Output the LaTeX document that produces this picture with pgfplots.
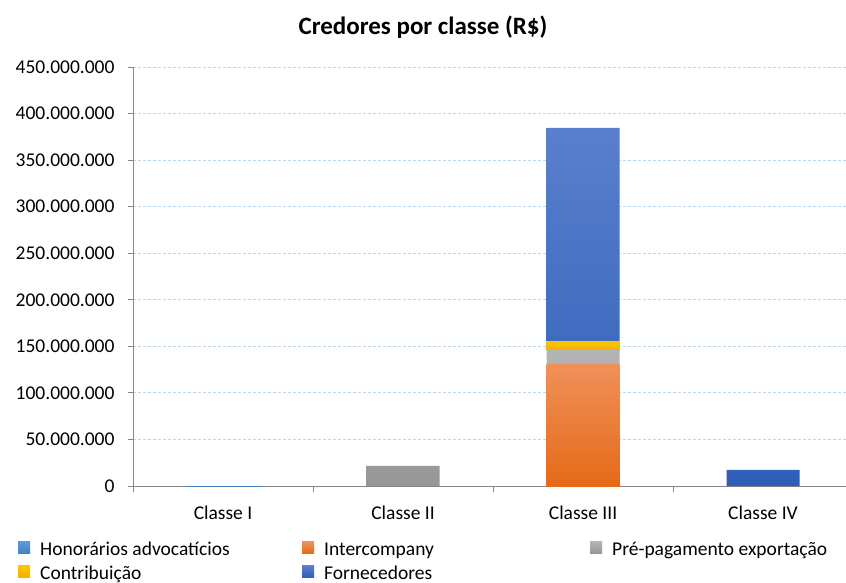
\documentclass[border=0pt]{standalone}
\usepackage{pgfplots}
\pgfplotsset{compat=1.18}
\usepackage{fontspec}
\setmainfont{Carlito}
\definecolor{gridblue}{RGB}{189,215,238}
\definecolor{axgray}{RGB}{134,134,134}
\definecolor{honblue}{RGB}{91,155,213}
\definecolor{honblueD}{RGB}{70,130,190}
\definecolor{orT}{RGB}{240,144,90}
\definecolor{orB}{RGB}{229,106,24}
\definecolor{grT}{RGB}{180,180,180}
\definecolor{grB}{RGB}{150,150,150}
\definecolor{yeT}{RGB}{255,196,0}
\definecolor{yeB}{RGB}{240,178,0}
\definecolor{blT}{RGB}{90,127,204}
\definecolor{blB}{RGB}{46,95,184}
\newcommand{\lfont}{\fontsize{19.5bp}{23bp}\selectfont}
\begin{document}
\begin{tikzpicture}
\useasboundingbox (-133bp,-97bp) rectangle (713bp,486bp);
\begin{axis}[
  at={(0,0)}, anchor=south west,
  scale only axis, width=713bp, height=419bp,
  ybar stacked, bar width=73bp,
  xmin=-0.5, xmax=3.461, ymin=0, ymax=450000000,
  ytick distance=50000000,
  scaled y ticks=false,
  axis x line*=bottom, axis y line*=left,
  axis line style={draw=axgray, line width=0.8bp},
  ymajorgrids,
  grid style={draw=gridblue, dash pattern=on 3bp off 2bp, line width=0.8bp},
  tick align=outside,
  major tick length=5bp, minor tick length=6bp,
  ytick style={draw=axgray, line width=0.8bp},
  xtick={0,1,2,3},
  xticklabels={Classe I, Classe II, Classe III, Classe IV},
  major x tick style={draw=none},
  minor xtick={-0.5,0.5,1.5,2.5},
  minor x tick style={draw=axgray, line width=0.8bp},
  tick label style={font=\lfont},
  yticklabel style={xshift=-10bp},
  xticklabel style={yshift=-11bp},
  /pgf/number format/.cd, fixed, precision=0, 1000 sep={.}, assume math mode=true,
  /pgfplots/.cd,
  legend columns=3,
  legend style={at={(-0.1613,-0.1313)}, anchor=north west, draw=none, fill=none,
    inner sep=0pt, row sep=5bp, column sep=0pt,
    cells={anchor=base west},
    nodes={inner sep=0pt, text height=14bp, text depth=5bp, font=\lfont}},
  legend image code/.code={\path[#1, draw=none] (0bp,1.5bp) rectangle (12bp,13.5bp); \path (22bp,0bp);},
]
\addplot[draw=none, top color=honblue, bottom color=honblueD] coordinates {(0,300000) (1,0) (2,0) (3,0)};
\addlegendentry{\makebox[262bp][l]{Honorários advocatícios}}
\addplot[draw=none, top color=orT, bottom color=orB] coordinates {(0,0) (1,0) (2,130000000) (3,0)};
\addlegendentry{\makebox[266bp][l]{Intercompany}}
\addplot[draw=none, top color=grT, bottom color=grB] coordinates {(0,0) (1,21500000) (2,16000000) (3,0)};
\addlegendentry{Pré-pagamento exportação}
\addplot[draw=none, top color=yeT, bottom color=yeB] coordinates {(0,0) (1,0) (2,9500000) (3,0)};
\addlegendentry{\makebox[262bp][l]{Contribuição}}
\addplot[draw=none, top color=blT, bottom color=blB] coordinates {(0,0) (1,0) (2,229000000) (3,17200000)};
\addlegendentry{\makebox[266bp][l]{Fornecedores}}
\end{axis}
\node[font=\fontsize{25bp}{30bp}\selectfont\bfseries] at (290bp,459bp) {Credores por classe (R\$)};
\end{tikzpicture}
\end{document}
